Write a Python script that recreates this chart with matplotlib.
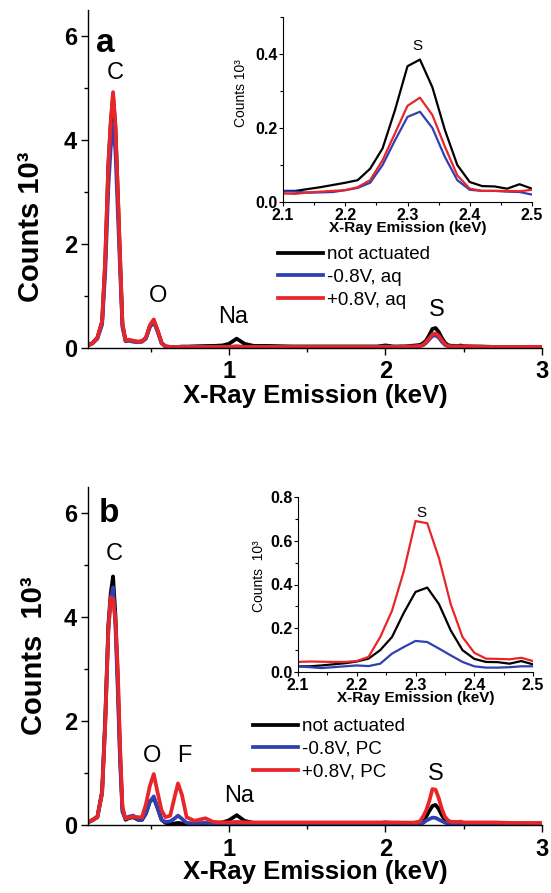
import matplotlib
matplotlib.use("Agg")
import matplotlib.pyplot as plt
from matplotlib.ticker import MultipleLocator

plt.rcParams["font.family"] = ["Liberation Sans", "DejaVu Sans"]

# ------------------------------------------------------------------
# data (counts in 10^3)
# ------------------------------------------------------------------
# low-energy part of the spectra (0.10 - 2.08 keV)
E_LO = [0.10, 0.13, 0.16, 0.19, 0.21, 0.23, 0.245, 0.26, 0.275, 0.29,
        0.305, 0.32, 0.34, 0.36, 0.39, 0.42, 0.445, 0.47, 0.495, 0.52,
        0.545, 0.57, 0.595, 0.625, 0.655, 0.675, 0.70, 0.73, 0.78, 0.85,
        0.90, 0.96, 1.00, 1.05, 1.10, 1.16, 1.25, 1.40, 1.60, 1.80,
        1.95, 2.00, 2.05, 2.08]
# S region (used by main plots and insets)
E_S = [2.10, 2.12, 2.14, 2.16, 2.18, 2.20, 2.22, 2.24, 2.26, 2.28, 2.30,
       2.32, 2.34, 2.36, 2.38, 2.40, 2.42, 2.44, 2.46, 2.48, 2.50]
# tail
E_HI = [2.55, 2.60, 2.70, 2.80, 2.90, 3.00]

# panel a
a_black_lo = [0.05, 0.10, 0.20, 0.50, 1.65, 3.50, 4.30, 4.85, 4.25, 3.00,
              1.70, 0.45, 0.14, 0.15, 0.13, 0.12, 0.13, 0.19, 0.42, 0.53,
              0.33, 0.10, 0.03, 0.02, 0.02, 0.02, 0.02, 0.02, 0.03, 0.04,
              0.04, 0.05, 0.08, 0.18, 0.08, 0.04, 0.04, 0.03, 0.03, 0.03,
              0.03, 0.05, 0.03, 0.03]
a_blue_lo = [0.05, 0.09, 0.18, 0.45, 1.45, 3.10, 3.85, 4.30, 3.80, 2.65,
             1.50, 0.40, 0.13, 0.14, 0.12, 0.11, 0.12, 0.18, 0.40, 0.50,
             0.31, 0.09, 0.03, 0.02, 0.02, 0.02, 0.03, 0.03, 0.03, 0.03,
             0.02, 0.02, 0.02, 0.03, 0.02, 0.02, 0.02, 0.02, 0.02, 0.02,
             0.02, 0.03, 0.02, 0.02]
a_red_lo = [0.05, 0.10, 0.20, 0.52, 1.70, 3.55, 4.35, 4.92, 4.30, 3.05,
            1.75, 0.48, 0.14, 0.16, 0.14, 0.12, 0.13, 0.20, 0.44, 0.55,
            0.34, 0.10, 0.03, 0.02, 0.02, 0.02, 0.02, 0.02, 0.02, 0.02,
            0.02, 0.02, 0.02, 0.03, 0.02, 0.02, 0.02, 0.02, 0.02, 0.02,
            0.02, 0.02, 0.02, 0.02]
a_black_s = [0.030, 0.030, 0.035, 0.040, 0.046, 0.052, 0.059, 0.090, 0.145,
             0.249, 0.367, 0.385, 0.310, 0.195, 0.100, 0.054, 0.043, 0.042,
             0.036, 0.048, 0.036]
a_blue_s = [0.029, 0.028, 0.025, 0.026, 0.027, 0.032, 0.038, 0.052, 0.100,
            0.167, 0.230, 0.244, 0.200, 0.122, 0.059, 0.033, 0.030, 0.030,
            0.028, 0.027, 0.020]
a_red_s = [0.023, 0.022, 0.026, 0.028, 0.030, 0.032, 0.040, 0.059, 0.113,
           0.186, 0.260, 0.282, 0.235, 0.150, 0.072, 0.036, 0.030, 0.030,
           0.030, 0.029, 0.033]
a_black_hi = [0.03, 0.03, 0.02, 0.02, 0.02, 0.02]
a_blue_hi = [0.02, 0.02, 0.02, 0.02, 0.02, 0.02]
a_red_hi = [0.03, 0.02, 0.02, 0.02, 0.02, 0.02]

# panel b
b_black_lo = [0.05, 0.10, 0.16, 0.65, 2.05, 3.85, 4.45, 4.78, 4.05, 2.80,
              1.35, 0.30, 0.10, 0.13, 0.15, 0.10, 0.10, 0.22, 0.45, 0.52,
              0.32, 0.10, 0.04, 0.03, 0.03, 0.04, 0.03, 0.02, 0.02, 0.03,
              0.03, 0.05, 0.09, 0.19, 0.08, 0.04, 0.03, 0.03, 0.03, 0.03,
              0.03, 0.05, 0.03, 0.03]
b_blue_lo = [0.05, 0.09, 0.15, 0.60, 1.95, 3.75, 4.35, 4.57, 3.85, 2.60,
             1.20, 0.25, 0.12, 0.16, 0.18, 0.10, 0.10, 0.22, 0.45, 0.55,
             0.32, 0.10, 0.06, 0.07, 0.13, 0.18, 0.12, 0.04, 0.03, 0.04,
             0.03, 0.02, 0.02, 0.03, 0.02, 0.02, 0.02, 0.02, 0.02, 0.02,
             0.02, 0.02, 0.02, 0.02]
b_red_lo = [0.06, 0.10, 0.15, 0.62, 1.95, 3.75, 4.38, 4.35, 3.95, 3.00,
            1.50, 0.35, 0.12, 0.14, 0.16, 0.15, 0.15, 0.40, 0.75, 0.98,
            0.62, 0.28, 0.15, 0.18, 0.56, 0.80, 0.58, 0.15, 0.08, 0.13,
            0.06, 0.05, 0.05, 0.06, 0.05, 0.05, 0.05, 0.05, 0.05, 0.05,
            0.05, 0.05, 0.05, 0.05]
b_black_s = [0.026, 0.026, 0.030, 0.035, 0.040, 0.048, 0.061, 0.100, 0.160,
             0.270, 0.366, 0.386, 0.310, 0.190, 0.100, 0.060, 0.046, 0.045,
             0.038, 0.050, 0.035]
b_blue_s = [0.026, 0.022, 0.018, 0.022, 0.026, 0.030, 0.027, 0.038, 0.084,
            0.114, 0.142, 0.137, 0.107, 0.076, 0.046, 0.026, 0.020, 0.020,
            0.022, 0.026, 0.026]
b_red_s = [0.046, 0.048, 0.047, 0.046, 0.046, 0.050, 0.069, 0.160, 0.280,
           0.460, 0.690, 0.680, 0.520, 0.310, 0.160, 0.088, 0.061, 0.060,
           0.058, 0.065, 0.050]
b_black_hi = [0.04, 0.03, 0.03, 0.03, 0.02, 0.02]
b_blue_hi = [0.02, 0.02, 0.02, 0.02, 0.02, 0.02]
b_red_hi = [0.05, 0.05, 0.05, 0.04, 0.04, 0.04]

labels_a = ["not actuated", "-0.8V, aq", "+0.8V, aq"]
labels_b = ["not actuated", "-0.8V, PC", "+0.8V, PC"]

BLACK = "#000000"
BLUE = "#3040b0"
RED = "#e8262a"

E_ALL = E_LO + E_S + E_HI

# ------------------------------------------------------------------
fig = plt.figure(figsize=(5.51, 8.93), dpi=100)
W, H = 551.0, 893.0


def px_axes(left, top, right, bottom):
    return fig.add_axes([left / W, 1 - bottom / H, (right - left) / W, (bottom - top) / H])


def style_main(ax):
    for s in ("top", "right"):
        ax.spines[s].set_visible(False)
    for s in ("left", "bottom"):
        ax.spines[s].set_linewidth(1.0)
    ax.set_xlim(0.10, 3.0)
    ax.set_ylim(0, 6.5)
    ax.xaxis.set_major_locator(MultipleLocator(1))
    ax.xaxis.set_minor_locator(MultipleLocator(0.5))
    ax.yaxis.set_major_locator(MultipleLocator(2))
    ax.yaxis.set_minor_locator(MultipleLocator(1))
    ax.tick_params(which="major", direction="out", length=5, width=1.0, labelsize=17)
    ax.tick_params(which="minor", direction="out", length=3, width=1.0)
    ax.tick_params(axis="x", pad=4)
    ax.tick_params(axis="y", pad=3)
    for t in ax.get_xticklabels() + ax.get_yticklabels():
        t.set_fontweight("bold")
    ax.set_xlabel("X-Ray Emission (keV)", fontsize=18.5, fontweight="bold", labelpad=0)


def style_inset(ax, ymax, ystep):
    for s in ("top", "right"):
        ax.spines[s].set_visible(False)
    for s in ("left", "bottom"):
        ax.spines[s].set_linewidth(0.8)
    ax.set_xlim(2.1, 2.5)
    ax.set_ylim(0, ymax)
    ax.xaxis.set_major_locator(MultipleLocator(0.1))
    ax.xaxis.set_minor_locator(MultipleLocator(0.05))
    ax.yaxis.set_major_locator(MultipleLocator(ystep))
    ax.yaxis.set_minor_locator(MultipleLocator(ystep / 2))
    ax.tick_params(which="major", direction="out", length=3, width=0.8, labelsize=11.5, pad=1)
    ax.tick_params(which="minor", direction="out", length=2, width=0.8)
    for t in ax.get_xticklabels() + ax.get_yticklabels():
        t.set_fontweight("bold")
    ax.set_xlabel("X-Ray Emission (keV)", fontsize=11, fontweight="bold", labelpad=-1)


LEG_KW = dict(frameon=False, fontsize=13.5, handlelength=2.4, handletextpad=0.2,
              labelspacing=0.3, borderpad=0, borderaxespad=0,
              bbox_transform=fig.transFigure, loc="upper left")

# ---------------- panel a ----------------
ax_a = px_axes(88, 10, 542, 348)
la = ax_a.plot(E_ALL, a_black_lo + a_black_s + a_black_hi, color=BLACK, lw=2.7)
lb = ax_a.plot(E_ALL, a_blue_lo + a_blue_s + a_blue_hi, color=BLUE, lw=2.7)
lc = ax_a.plot(E_ALL, a_red_lo + a_red_s + a_red_hi, color=RED, lw=2.7)
style_main(ax_a)
ax_a.set_ylabel("Counts 10³", fontsize=21, fontweight="bold")
ax_a.yaxis.set_label_coords(-0.095, 0.36)
ax_a.text(0.213, 5.69, "a", fontsize=24, fontweight="bold", ha="center", va="baseline")
for txt, x, y in [("C", 0.277, 5.17), ("O", 0.548, 0.89), ("Na", 1.03, 0.48), ("S", 2.33, 0.62)]:
    ax_a.text(x, y, txt, fontsize=17, ha="center", va="baseline")
ax_a.legend(la + lb + lc, labels_a, bbox_to_anchor=(278 / W, 1 - 246 / H), **LEG_KW)

ins_a = px_axes(283, 17, 532, 202)
ins_a.plot(E_S, a_black_s, color=BLACK, lw=1.6)
ins_a.plot(E_S, a_blue_s, color=BLUE, lw=1.6)
ins_a.plot(E_S, a_red_s, color=RED, lw=1.6)
style_inset(ins_a, 0.5, 0.2)
ins_a.set_ylabel("Counts 10³", fontsize=10)
ins_a.yaxis.set_label_coords(-0.14, 0.59)
ins_a.text(2.316, 0.41, "S", fontsize=11, ha="center", va="baseline")

# ---------------- panel b ----------------
ax_b = px_axes(88, 487, 542, 825)
lb1 = ax_b.plot(E_ALL, b_black_lo + b_black_s + b_black_hi, color=BLACK, lw=2.7)
lb2 = ax_b.plot(E_ALL, b_blue_lo + b_blue_s + b_blue_hi, color=BLUE, lw=2.7)
lb3 = ax_b.plot(E_ALL, b_red_lo + b_red_s + b_red_hi, color=RED, lw=2.7)
style_main(ax_b)
ax_b.set_ylabel("Counts  10³", fontsize=21, fontweight="bold")
ax_b.yaxis.set_label_coords(-0.088, 0.5)
ax_b.text(0.236, 5.83, "b", fontsize=24, fontweight="bold", ha="center", va="baseline")
for txt, x, y in [("C", 0.268, 5.10), ("O", 0.508, 1.22), ("F", 0.713, 1.22),
                  ("Na", 1.066, 0.45), ("S", 2.323, 0.87)]:
    ax_b.text(x, y, txt, fontsize=17, ha="center", va="baseline")
ax_b.legend(lb1 + lb2 + lb3, labels_b, bbox_to_anchor=(253 / W, 1 - 718 / H), **LEG_KW)

ins_b = px_axes(298, 497, 533, 672)
ins_b.plot(E_S, b_black_s, color=BLACK, lw=1.6)
ins_b.plot(E_S, b_blue_s, color=BLUE, lw=1.6)
ins_b.plot(E_S, b_red_s, color=RED, lw=1.6)
style_inset(ins_b, 0.8, 0.2)
ins_b.set_ylabel("Counts  10³", fontsize=10)
ins_b.yaxis.set_label_coords(-0.136, 0.55)
ins_b.text(2.31, 0.71, "S", fontsize=11, ha="center", va="baseline")

fig.savefig("out.png", dpi=100)
plt.close(fig)
